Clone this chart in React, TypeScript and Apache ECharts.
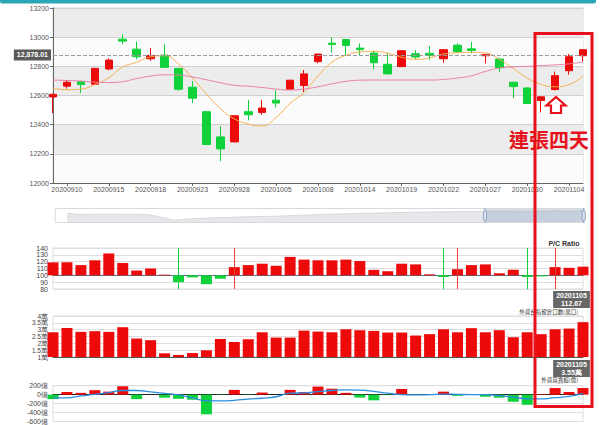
import React, { useEffect, useRef } from 'react';
import * as echarts from 'echarts';

const dates = ['20200909','20200910','20200911','20200914','20200915','20200916','20200917','20200918','20200921','20200922','20200923','20200924','20200925','20200928','20200929','20200930','20201005','20201006','20201007','20201008','20201012','20201013','20201014','20201015','20201016','20201019','20201020','20201021','20201022','20201023','20201026','20201027','20201028','20201029','20201030','20201102','20201103','20201104','20201105'];

// [open, close, low, high]
const candles = [
  [12590, 12608, 12480, 12612],
  [12664, 12691, 12648, 12707],
  [12695, 12675, 12616, 12700],
  [12677, 12786, 12672, 12790],
  [12782, 12843, 12773, 12855],
  [12986, 12973, 12952, 13020],
  [12918, 12866, 12848, 12970],
  [12852, 12875, 12839, 12925],
  [12877, 12793, 12790, 12952],
  [12786, 12643, 12632, 12790],
  [12657, 12582, 12548, 12700],
  [12489, 12264, 12262, 12490],
  [12316, 12234, 12150, 12389],
  [12282, 12461, 12280, 12463],
  [12489, 12468, 12430, 12570],
  [12484, 12514, 12468, 12570],
  [12568, 12548, 12518, 12636],
  [12643, 12705, 12641, 12707],
  [12668, 12748, 12623, 12775],
  [12832, 12884, 12820, 12886],
  [12959, 12950, 12895, 12998],
  [12984, 12943, 12877, 12986],
  [12925, 12914, 12877, 12957],
  [12891, 12825, 12780, 12907],
  [12814, 12748, 12745, 12893],
  [12798, 12907, 12796, 12911],
  [12886, 12864, 12850, 12911],
  [12889, 12875, 12843, 12939],
  [12852, 12914, 12825, 12916],
  [12945, 12900, 12889, 12957],
  [12920, 12909, 12889, 12968],
  [12873, 12880, 12820, 12882],
  [12850, 12791, 12759, 12852],
  [12691, 12661, 12582, 12693],
  [12652, 12545, 12544, 12655],
  [12566, 12591, 12484, 12593],
  [12641, 12736, 12634, 12764],
  [12770, 12866, 12743, 12884],
  [12873, 12914, 12832, 12916],
];

const ma5 = [12649,12640,12644,12675,12722,12795,12828,12865,12873,12815,12720,12610,12510,12440,12405,12391,12450,12546,12620,12735,12828,12875,12898,12903,12889,12862,12848,12858,12885,12893,12896,12892,12848,12785,12720,12676,12660,12675,12734];
const ma20 = [12706,12703,12699,12692,12689,12695,12716,12733,12742,12740,12727,12708,12688,12670,12664,12655,12644,12638,12644,12660,12680,12697,12705,12706,12706,12706,12706,12706,12710,12720,12735,12765,12788,12796,12800,12805,12810,12817,12830];

const crosshairValue = 12878.01;

const pcRatio = [119,119,115,122,132,118,107,110,101,90,97,87,95,112,115,117,114,127,123,122,122,123,121,108,106,117,116,101.5,97.6,109,115,116,103,108,97.6,98.5,112,111,112.67];
const pcDownSignals = ['20200922','20201022','20201030'];
const pcUpSignals = ['20200928','20201023','20201103'];

// 外資台指留倉口數 (萬口)
const foreignOI = [2.81,3.13,2.84,2.89,2.84,3.18,2.35,2.23,1.27,1.15,1.29,1.49,2.32,2.10,2.30,2.81,2.42,2.42,2.93,2.86,2.81,3.03,2.96,2.91,2.79,2.79,2.57,2.67,3.03,2.81,3.11,2.81,2.96,2.45,2.81,2.67,3.03,3.08,3.55];

// 外資買賣超 (億)
const foreignNet = [-100,60,40,100,67,187,-100,0,-67,-93,-113,-440,-5,107,-5,47,0,107,60,180,133,40,-67,-127,-10,127,-5,-5,67,-27,-5,-47,-67,-160,-227,13,147,60,147];
const foreignNetAvg = [-73,-73,-27,7,47,93,93,60,27,-7,-73,-133,-140,-127,-100,-80,-47,33,40,67,93,107,100,73,33,0,-7,0,13,7,0,0,-20,-53,-93,-93,-67,-40,27];

// full-history closes for the zoom slider shadow
const historyShadow = [null,11866,11253,11368,11400,11330,11300,11250,10100,8700,9250,9550,9750,9930,10150,10340,10400,10550,10800,11050,11300,11480,11600,11750,11900,12020,12130,12250,12350,12450,12520,12580,12620,12700,12850,12500,12650,12800,12880,12650,12914];

const FONT = '"Liberation Sans", Arial, sans-serif';
const RED = '#ec0a0a';
const GREEN = '#0fd23a';
const BOXRED = '#e8101a';
const OI_BASE = 1;

export default function App() {
  const ref = useRef<HTMLDivElement>(null);
  useEffect(() => {
    if (!ref.current) return;
    const chart = echarts.init(ref.current, undefined, { renderer: 'svg' });
    const labelInterval = (i: number) => i % 3 === 1;
    const lowerX = (gi: number, lineColor: string) => ({
      type: 'category', gridIndex: gi, data: dates, boundaryGap: false,
      axisLabel: { show: false }, axisTick: { show: false },
      axisLine: { show: true, onZero: true, lineStyle: { color: lineColor, width: 1 } },
      splitLine: { show: false },
    });
    const lowerYLabel = {
      fontSize: 7, color: '#444', margin: 5, showMinLabel: true, showMaxLabel: true,
      hideOverlap: false, textMargin: 0, minMargin: 0,
    };
    const option: any = {
      animation: false,
      textStyle: { fontFamily: FONT },
      grid: [
        { left: 53, top: 8, width: 530, height: 175, show: true, borderColor: '#d6d6d6', borderWidth: 1 },
        { left: 54, top: 208, width: 530, height: 15 },
        { left: 53, top: 248, width: 530, height: 41, show: true, borderColor: '#dcdcdc', borderWidth: 1 },
        { left: 53, top: 316, width: 530, height: 41, show: true, borderColor: '#dcdcdc', borderWidth: 1 },
        { left: 53, top: 385.7, width: 530, height: 39.6, show: true, borderColor: '#dcdcdc', borderWidth: 1 },
      ],
      xAxis: [
        {
          type: 'category', gridIndex: 0, data: dates, boundaryGap: false,
          axisLine: { lineStyle: { color: '#666' } },
          axisTick: { interval: labelInterval, length: 3, lineStyle: { color: '#666' } },
          axisLabel: { interval: labelInterval, fontSize: 7, color: '#555', margin: 3 },
          splitLine: { show: false },
        },
        { type: 'category', gridIndex: 1, data: historyShadow.map((_, i) => i), show: false, boundaryGap: false },
        lowerX(2, '#5d6e7c'),
        lowerX(3, '#555'),
        lowerX(4, '#222'),
      ],
      yAxis: [
        {
          type: 'value', gridIndex: 0, min: 12000, max: 13200, interval: 200,
          axisLine: { show: true, lineStyle: { color: '#666' } },
          axisTick: { show: true, length: 3, lineStyle: { color: '#666' } },
          axisLabel: { fontSize: 7, color: '#555', margin: 4, formatter: (v: number) => String(v), showMinLabel: true, showMaxLabel: true },
          splitLine: { lineStyle: { color: '#d0d0d0' } },
          splitArea: { show: true, areaStyle: { color: ['#fbfbfb', '#ececec'] } },
        },
        { type: 'value', gridIndex: 1, show: false, scale: true },
        {
          type: 'value', gridIndex: 2, min: -20, max: 40, interval: 10,
          axisLine: { show: false }, axisTick: { show: false },
          axisLabel: { ...lowerYLabel, formatter: (v: number) => String(v + 100) },
          splitLine: { lineStyle: { color: '#dedede' } },
        },
        {
          type: 'value', gridIndex: 3, min: 0, max: 3, interval: 0.5,
          axisLine: { show: false }, axisTick: { show: false },
          axisLabel: { ...lowerYLabel, fontSize: 6.5, lineHeight: 6, formatter: (v: number) => `${+(v + OI_BASE).toFixed(1)}萬` },
          splitLine: { lineStyle: { color: '#dedede' } },
        },
        {
          type: 'value', gridIndex: 4, min: -600, max: 200, interval: 200,
          axisLine: { show: false }, axisTick: { show: false },
          axisLabel: { ...lowerYLabel, formatter: (v: number) => `${v}億` },
          splitLine: { lineStyle: { color: '#dedede' } },
        },
      ],
      dataZoom: [
        {
          type: 'slider', xAxisIndex: 1, start: 81, end: 100,
          left: 54, top: 208, width: 530, height: 15,
          showDetail: false, brushSelect: false, moveHandleSize: 0, zoomLock: true, filterMode: 'none',
          borderColor: '#d9d9d9', backgroundColor: '#ffffff',
          fillerColor: 'rgba(160,178,204,0.45)',
          dataBackground: { lineStyle: { color: '#c6c9cf', width: 0.6 }, areaStyle: { color: '#e6e8ec', opacity: 1 } },
          selectedDataBackground: { lineStyle: { color: '#c6c9cf', width: 0.6 }, areaStyle: { color: '#e6e8ec', opacity: 1 } },
          handleSize: '100%',
          handleStyle: { color: '#dfe6ef', borderColor: '#8fa3c4' },
        },
      ],
      series: [
        {
          type: 'candlestick', xAxisIndex: 0, yAxisIndex: 0, data: candles, barWidth: 8, clip: false,
          itemStyle: { color: RED, color0: GREEN, borderColor: RED, borderColor0: GREEN, borderWidth: 1 },
          markLine: {
            silent: true, symbol: 'none',
            lineStyle: { type: 'dashed', color: '#9a9a9a', width: 1 },
            label: {
              position: 'start', formatter: '12,878.01', backgroundColor: '#5a5a5a', color: '#fff',
              padding: [2, 3], fontSize: 7, fontWeight: 'bold', distance: 2,
            },
            data: [{ yAxis: crosshairValue }],
          },
        },
        { type: 'line', xAxisIndex: 0, yAxisIndex: 0, data: ma5, smooth: true, symbol: 'none', lineStyle: { color: '#f6b04e', width: 1 } },
        { type: 'line', xAxisIndex: 0, yAxisIndex: 0, data: ma20, smooth: true, symbol: 'none', lineStyle: { color: '#ea7ca6', width: 1 } },
        { type: 'line', xAxisIndex: 1, yAxisIndex: 1, data: historyShadow, symbol: 'none', silent: true, lineStyle: { opacity: 0 } },
        {
          type: 'bar', xAxisIndex: 2, yAxisIndex: 2, barWidth: 11, clip: false,
          data: pcRatio.map((v) => ({ value: +(v - 100).toFixed(2), itemStyle: { color: v >= 100 ? RED : GREEN } })),
          markLine: {
            silent: true, symbol: 'none', label: { show: false },
            data: [
              ...pcDownSignals.map((d) => ({ xAxis: d, lineStyle: { color: GREEN, width: 1, type: 'solid' } })),
              ...pcUpSignals.map((d) => ({ xAxis: d, lineStyle: { color: '#f03a3a', width: 1, type: 'solid' } })),
            ],
          },
        },
        {
          type: 'bar', xAxisIndex: 3, yAxisIndex: 3, barWidth: 11, clip: false,
          data: foreignOI.map((v) => +(v - OI_BASE).toFixed(2)), itemStyle: { color: RED },
        },
        {
          type: 'bar', xAxisIndex: 4, yAxisIndex: 4, barWidth: 11, clip: false,
          data: foreignNet.map((v) => ({ value: v, itemStyle: { color: v >= 0 ? RED : GREEN } })),
        },
        { type: 'line', xAxisIndex: 4, yAxisIndex: 4, data: foreignNetAvg, smooth: true, symbol: 'none', lineStyle: { color: '#2a8de0', width: 1.3 } },
      ],
      graphic: [
        { type: 'rect', z: 100, shape: { x: 0, y: 0, width: 596, height: 3.5, r: [0, 0, 2, 2] }, style: { fill: '#2aa6b6' } },
        { type: 'text', z: 100, x: 564, y: 243, style: { text: 'P/C Ratio', fontSize: 7, fontWeight: 'bold', fill: '#333', align: 'center', verticalAlign: 'middle', fontFamily: FONT } },
        { type: 'text', z: 100, x: 578, y: 312, style: { text: '外資台指留倉口數(萬口)', fontSize: 5.5, fill: '#333', align: 'right', verticalAlign: 'middle', fontFamily: '"Noto Sans CJK TC"' } },
        { type: 'text', z: 100, x: 578, y: 380, style: { text: '外資買賣超(億)', fontSize: 5.5, fill: '#333', align: 'right', verticalAlign: 'middle', fontFamily: '"Noto Sans CJK TC"' } },
        { type: 'text', z: 100, x: 571.5, y: 291, style: { text: '20201105\n112.67', fontSize: 7, fontWeight: 'bold', lineHeight: 7.5, fill: '#fff', backgroundColor: '#666', padding: [1, 3], align: 'center', verticalAlign: 'top', fontFamily: FONT } },
        { type: 'text', z: 100, x: 571.5, y: 360, style: { text: '20201105\n3.55萬', fontSize: 7, fontWeight: 'bold', lineHeight: 7.5, fill: '#fff', backgroundColor: '#666', padding: [1, 3], align: 'center', verticalAlign: 'top', fontFamily: FONT } },
        { type: 'rect', z: 110, shape: { x: 535, y: 33.5, width: 57, height: 373 }, style: { fill: 'none', stroke: BOXRED, lineWidth: 3 } },
        { type: 'polygon', z: 110, shape: { points: [[556, 97], [565.5, 105.5], [561, 105.5], [561, 113], [551, 113], [551, 105.5], [546.5, 105.5]] }, style: { fill: '#fff', stroke: BOXRED, lineWidth: 2.2 } },
        { type: 'text', z: 110, x: 549, y: 139, style: { text: '連張四天', fontSize: 20, fontWeight: 'bold', fill: BOXRED, align: 'center', verticalAlign: 'middle', fontFamily: '"Noto Sans CJK TC"' } },
      ],
    };
    chart.setOption(option);
    return () => chart.dispose();
  }, []);
  return <div ref={ref} style={{ position: 'absolute', left: 0, top: 0, width: 600, height: 425, background: '#fff' }} />;
}
